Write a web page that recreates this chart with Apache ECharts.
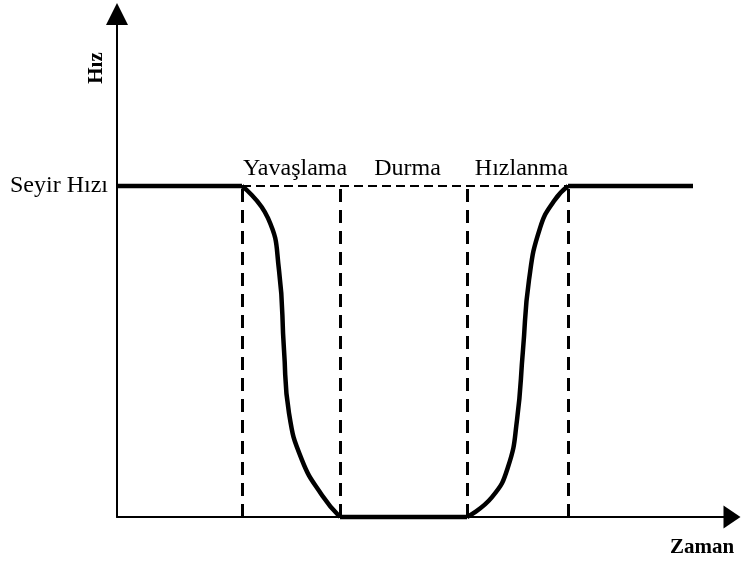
<!DOCTYPE html>
<html>
<head>
<meta charset="utf-8">
<script src="https://cdn.jsdelivr.net/npm/echarts@6/dist/echarts.min.js"></script>
<style>
  html, body { margin: 0; padding: 0; background: #fff; }
  #speedchart { width: 741px; height: 561px; }
</style>
</head>
<body>
<div id="speedchart"></div>
<script>
// time where each phase starts / ends (deceleration start, stop start, acceleration start, cruise again)
var phaseBounds = [125, 223, 350, 451];
var phaseNames = ['Yavaşlama', 'Durma', 'Hızlanma'];
var cruiseSpeed = 100;
var timeStart = 0;
var timeEnd = 576;

// curve points
var decelCurve = [[125, 100], [151, 90.3], [162, 74.6], [167, 50.5], [172, 31.4], [185, 17.2],
  [205, 6.6], [223, 0]];
var accelCurve = [[350, 0], [375, 6], [391, 15.1], [400, 29.3], [406, 50.5], [412, 71.6],
  [423, 87.3], [437, 95.5], [451, 100]];

var serifFont = '"Liberation Serif", "DejaVu Serif", serif';

speedchart = echarts.init(document.getElementById('speedchart'));

var flatPieces = [
  [[timeStart, cruiseSpeed], [phaseBounds[0], cruiseSpeed]],
  [[phaseBounds[1], 0], [phaseBounds[2], 0]],
  [[phaseBounds[3], cruiseSpeed], [timeEnd, cruiseSpeed]]
];

var guideLines = phaseBounds.map(function (x) {
  return [{ coord: [x, 0] }, { coord: [x, cruiseSpeed] }];
});

var labelPoints = phaseNames.map(function (n, i) {
  return { value: [(phaseBounds[i] + phaseBounds[i + 1]) / 2 + 4, cruiseSpeed], name: n };
});

var thick = { color: '#000', width: 4.5 };

var series = [];
flatPieces.forEach(function (p) {
  series.push({ type: 'line', data: p, showSymbol: false, clip: false, lineStyle: thick, z: 5 });
});
series.push({ type: 'line', data: decelCurve, smooth: 0.5, showSymbol: false, clip: false, lineStyle: thick, z: 5 });
series.push({ type: 'line', data: accelCurve, smooth: 0.5, showSymbol: false, clip: false, lineStyle: thick, z: 5 });
// dashed guides
series.push({
  type: 'line', data: [], z: 3,
  markLine: {
    silent: true, symbol: 'none', label: { show: false },
    lineStyle: { color: '#000', width: 3, type: [13, 8] },
    data: guideLines
  }
});
series.push({
  type: 'line', data: [], z: 3,
  markLine: {
    silent: true, symbol: 'none', label: { show: false },
    lineStyle: { color: '#000', width: 2, type: [9, 5] },
    data: [[{ coord: [phaseBounds[0], cruiseSpeed] }, { coord: [phaseBounds[3], cruiseSpeed] }]]
  }
});
// phase names
series.push({
  type: 'scatter', data: labelPoints, symbolSize: 0, z: 6,
  itemStyle: { opacity: 1 },
  label: {
    show: true, position: 'top', distance: 5,
    formatter: function (p) { return p.name; },
    color: '#000', fontFamily: serifFont, fontSize: 24
  }
});

option = {
  animation: false,
  backgroundColor: '#fff',
  grid: { left: 117, right: 9, top: 14, bottom: 44 },
  xAxis: {
    type: 'value', min: 0, max: 615,
    axisLine: { show: true, onZero: false, symbol: ['none', 'triangle'], symbolSize: [23, 17],
      lineStyle: { color: '#000', width: 2 } },
    axisTick: { show: false }, axisLabel: { show: false }, splitLine: { show: false }
  },
  yAxis: {
    type: 'value', min: 0, max: 152, interval: 100,
    axisLine: { show: true, onZero: false, symbol: ['none', 'triangle'], symbolSize: [22, 22],
      lineStyle: { color: '#000', width: 2 } },
    axisTick: { show: false }, splitLine: { show: false },
    axisLabel: {
      margin: 9, color: '#000', fontFamily: serifFont, fontSize: 24,
      formatter: function (v) { return v === cruiseSpeed ? 'Seyir Hızı' : ''; }
    }
  },
  graphic: [
    { type: 'text', x: 97, y: 68, rotation: Math.PI / 2,
      style: { text: 'Hız', font: 'bold 21px ' + serifFont, fill: '#000', align: 'center', verticalAlign: 'middle' } },
    { type: 'text', x: 702, y: 548,
      style: { text: 'Zaman', font: 'bold 21px ' + serifFont, fill: '#000', align: 'center', verticalAlign: 'middle' } }
  ],
  series: series
};
speedchart.setOption(option);
</script>
</body>
</html>
